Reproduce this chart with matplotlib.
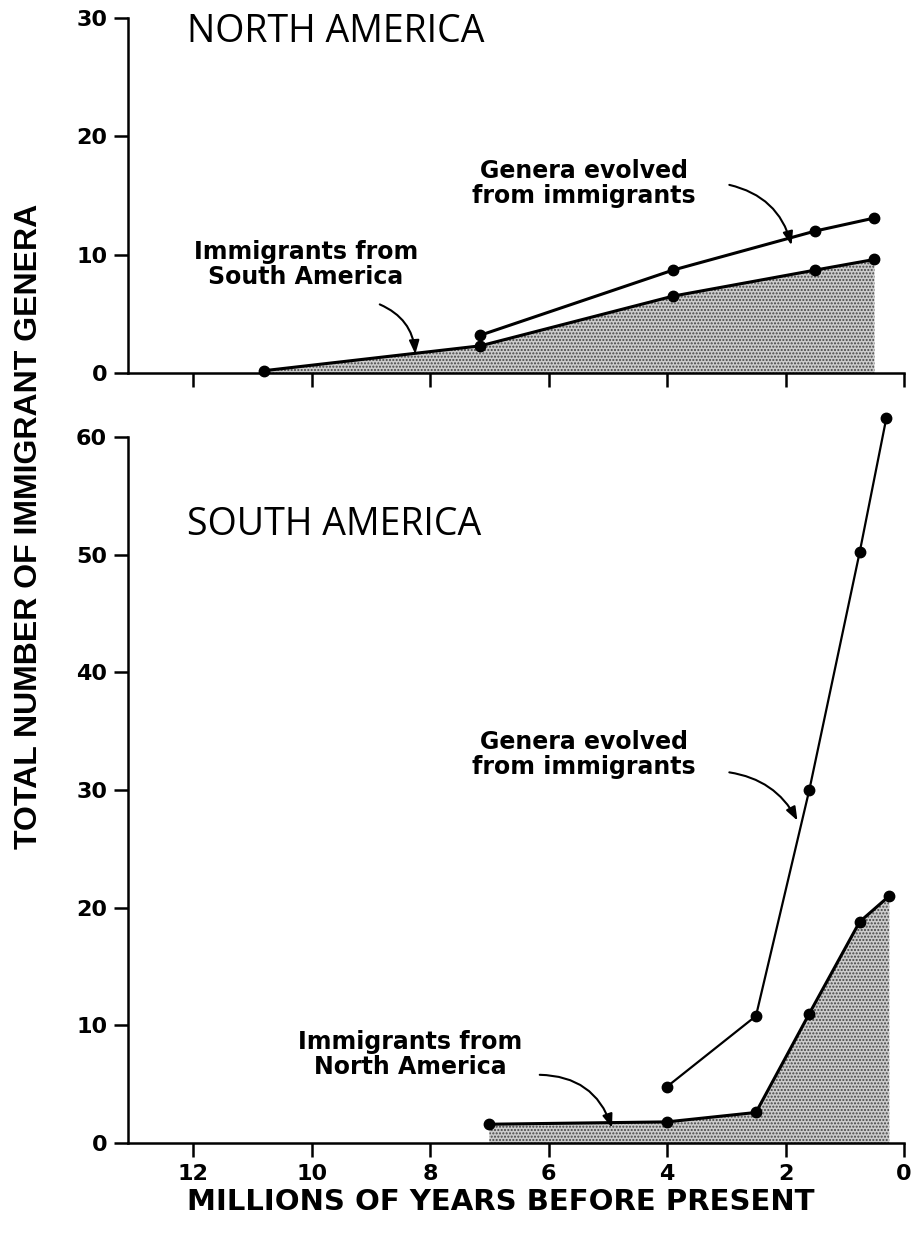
import matplotlib
matplotlib.use("Agg")
import matplotlib.pyplot as plt

# ---- data ----
na_imm_x = [10.8, 7.15, 3.9, 1.5, 0.5]
na_imm_y = [0.2, 2.3, 6.5, 8.7, 9.6]
na_gen_x = [7.15, 3.9, 1.5, 0.5]
na_gen_y = [3.2, 8.7, 12.0, 13.1]

sa_imm_x = [7.0, 4.0, 2.5, 1.6, 0.75, 0.25]
sa_imm_y = [1.6, 1.8, 2.6, 11.0, 18.8, 21.0]
sa_gen_x = [4.0, 2.5, 1.6, 0.75, 0.3]
sa_gen_y = [4.8, 10.8, 30.0, 50.2, 61.6]

x_ticks = [12, 10, 8, 6, 4, 2, 0]
na_yticks = [0, 10, 20, 30]
sa_yticks = [0, 10, 20, 30, 40, 50, 60]

plt.rcParams['font.family'] = ['DejaVu Sans']

fig = plt.figure(figsize=(9.16, 12.34), dpi=100)
ax1 = fig.add_axes([0.1397, 0.6977, 0.8473, 0.2877])
ax2 = fig.add_axes([0.1397, 0.0737, 0.8473, 0.5722])

fill_kw = dict(facecolor='#cccccc', edgecolor='#444444', hatch='.....', linewidth=0)
ann_font = dict(fontsize=17, fontweight='bold', family=['DejaVu Sans'],
                ha='center', va='center', linespacing=1.05)
title_font = dict(fontsize=27, family=['Open Sans', 'DejaVu Sans'], fontweight='normal',
                  va='center', ha='left')


def style(ax, yt, ymax, labels):
    ax.set_xlim(13.1, 0)
    ax.set_ylim(0, ymax)
    ax.spines['top'].set_visible(False)
    ax.spines['right'].set_visible(False)
    for s in ('left', 'bottom'):
        ax.spines[s].set_linewidth(1.8)
    ax.set_xticks(x_ticks)
    ax.set_yticks(yt)
    ax.tick_params(direction='out', length=10, width=1.8, labelsize=16, pad=5)
    for lab in ax.get_yticklabels():
        lab.set_fontweight('bold')
    if labels:
        for lab in ax.get_xticklabels():
            lab.set_fontweight('bold')
    else:
        ax.set_xticklabels([])


arrow_kw = dict(arrowstyle='-|>,head_length=0.8,head_width=0.3', color='black', lw=1.5,
                shrinkA=0, shrinkB=0)

# North America
ax1.fill_between(na_imm_x, na_imm_y, 0, **fill_kw)
ax1.plot(na_imm_x, na_imm_y, color='black', lw=2.2, marker='o', ms=7.5, clip_on=False)
ax1.plot(na_gen_x, na_gen_y, color='black', lw=2.2, marker='o', ms=7.5, clip_on=False)
style(ax1, na_yticks, 30, False)
ax1.text(12.1, 28.8, 'NORTH AMERICA', **title_font)
ax1.text(5.4, 16.0, 'Genera evolved\nfrom immigrants', **ann_font)
ax1.text(10.1, 9.15, 'Immigrants from\nSouth America', **ann_font)
ax1.annotate('', xy=(1.9, 10.8), xytext=(2.95, 15.9),
             arrowprops=dict(connectionstyle='arc3,rad=-0.3', **arrow_kw))
ax1.annotate('', xy=(8.25, 1.6), xytext=(8.85, 5.8),
             arrowprops=dict(connectionstyle='arc3,rad=-0.3', **arrow_kw))

# South America
ax2.fill_between(sa_imm_x, sa_imm_y, 0, **fill_kw)
ax2.plot(sa_imm_x, sa_imm_y, color='black', lw=2.2, marker='o', ms=7.5, clip_on=False)
ax2.plot(sa_gen_x, sa_gen_y, color='black', lw=1.6, marker='o', ms=7.5, clip_on=False)
style(ax2, sa_yticks, 60, True)
ax2.text(12.1, 52.5, 'SOUTH AMERICA', **title_font)
ax2.text(5.4, 33.0, 'Genera evolved\nfrom immigrants', **ann_font)
ax2.text(8.34, 7.5, 'Immigrants from\nNorth America', **ann_font)
ax2.annotate('', xy=(1.8, 27.4), xytext=(2.95, 31.5),
             arrowprops=dict(connectionstyle='arc3,rad=-0.25', **arrow_kw))
ax2.annotate('', xy=(4.93, 1.3), xytext=(6.15, 5.8),
             arrowprops=dict(connectionstyle='arc3,rad=-0.35', **arrow_kw))

fig.text(29 / 916, 1 - 526 / 1234, 'TOTAL NUMBER OF IMMIGRANT GENERA', rotation=90,
         fontsize=23, fontweight='bold', family=['Liberation Sans', 'DejaVu Sans'],
         ha='center', va='center')
fig.text(501 / 916, 1 - 1202 / 1234, 'MILLIONS OF YEARS BEFORE PRESENT',
         fontsize=21, fontweight='bold', family=['DejaVu Sans'],
         ha='center', va='center')

fig.savefig('out.png', dpi=100)
